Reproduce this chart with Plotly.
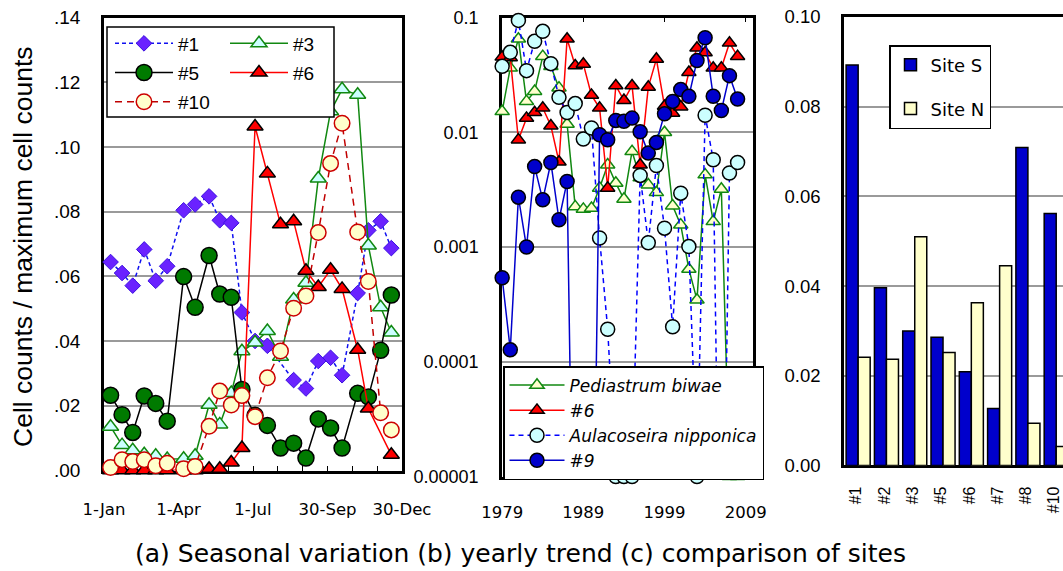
import plotly.graph_objects as go
import pandas as pd

W, H = 1063, 571

# ---------------- Panel (a): seasonal variation ----------------
season_dates = ["2001-01-09", "2001-01-23", "2001-02-05", "2001-02-19", "2001-03-05", "2001-03-19",
                "2001-04-08", "2001-04-22", "2001-05-09", "2001-05-22", "2001-06-05", "2001-06-18",
                "2001-07-04", "2001-07-19", "2001-08-04", "2001-08-20", "2001-09-04", "2001-09-19",
                "2001-10-04", "2001-10-18", "2001-11-06", "2001-11-19", "2001-12-04", "2001-12-17"]
site1 = [0.0644, 0.0610, 0.0571, 0.0683, 0.0586, 0.0631, 0.0804, 0.0822, 0.0847, 0.0773, 0.0765, 0.0488,
         0.0400, 0.0385, None, 0.0279, 0.0253, 0.0338, 0.0348, 0.0294, 0.0548, 0.0742, 0.0770, 0.0687]
site3 = [0.0135, 0.0078, 0.0062, 0.0050, 0.0045, 0.0035, 0.0036, 0.0045, 0.0203, 0.0142, 0.0239, 0.0368,
         0.0395, 0.0431, 0.0351, 0.0528, 0.0580, 0.0902, 0.1110, 0.1178, 0.1161, 0.0695, 0.0504, 0.0426]
site5 = [0.0232, 0.0172, 0.0117, 0.0230, 0.0207, 0.0152, 0.0599, 0.0504, 0.0664, 0.0545, 0.0535, 0.0250,
         0.0170, 0.0139, 0.0069, 0.0084, 0.0038, 0.0159, 0.0131, 0.0069, 0.0238, 0.0227, 0.0371, 0.0542]
site6 = [0.0, 0.0, 0.0, 0.0, 0.0, 0.0, 0.0, 0.0, 0.0005, 0.0005, 0.0024, 0.0069,
         0.1063, 0.0918, 0.0761, 0.0770, 0.0617, 0.0567, 0.0620, 0.0561, 0.0373, 0.0191, None, 0.0048]
site10 = [0.0009, 0.0033, 0.0027, 0.0033, 0.0014, 0.0022, 0.0005, 0.0012, 0.0136, 0.0245, 0.0202, 0.0231,
          0.0166, 0.0286, 0.0369, 0.0501, 0.0539, 0.0735, 0.0949, 0.1073, 0.0737, 0.0584, 0.0178, 0.0125]
season_tick_labels = ["1-Jan", "1-Apr", "1-Jul", "30-Sep", "30-Dec"]
season_y_ticks = [0.0, 0.02, 0.04, 0.06, 0.08, 0.10, 0.12, 0.14]
season_y_labels = [".00", ".02", ".04", ".06", ".08", ".10", ".12", ".14"]

# ---------------- Panel (b): yearly trend ----------------
years = [1979, 1980, 1981, 1982, 1983, 1984, 1985, 1986, 1987, 1988,
         1989, 1990, 1991, 1992, 1993, 1994, 1995, 1996, 1997, 1998,
         1999, 2000, 2001, 2002, 2003, 2004, 2005, 2006, 2007, 2008]
ZERO = 1e-7  # value of zero / not detected: drawn below the log axis
pediastrum = [0.0152, 0.0364, 0.0652, 0.0186, 0.0228, 0.0459, 0.0376, 0.0244, 0.0118, 0.00225,
              0.00214, 0.00218, 0.00327, 0.00521, 0.00361, 0.00262, 0.00681, 0.00402, 0.00349, 0.00299,
              0.00998, 0.00229, 0.00156, 0.000641, 0.000346, 0.00427, 0.00167, 0.00320, 0.00001, 0.00001]
yearly6 = [0.0454, 0.0448, 0.00861, 0.0133, 0.0149, 0.0163, 0.0114, 0.00552, 0.0652, 0.0381,
           0.0394, 0.0211, 0.0163, 0.00327, 0.0255, 0.0190, 0.0255, 0.00521, 0.0248, 0.0435,
           0.0169, 0.0147, 0.0167, 0.0334, 0.0544, 0.0495, 0.0364, 0.0364, 0.0601, 0.0459]
aulacoseira = [0.0376, 0.0498, 0.0946, 0.0345, 0.0621, 0.0759, 0.0397, 0.0202, 0.0149, 0.0178,
               0.00875, 0.0109, 0.00120, 0.000192, 0.00001, 0.00001, 0.00001, 0.00421, 0.00109, 0.00514,
               0.00146, 0.000202, 0.00295, 0.00101, 0.00001, 0.0141, 0.00577, ZERO, 0.00442, 0.00546]
yearly9 = [0.00054, 0.000127, 0.00272, 0.00100, 0.00503, 0.00258, 0.00546, 0.00173, 0.00373, ZERO,
           ZERO, ZERO, 0.00953, 0.00861, 0.0127, 0.0125, 0.0133, 0.0101, 0.00659, 0.00817,
           0.0145, 0.0186, 0.0236, 0.0206, 0.0422, 0.0668, 0.0206, 0.0155, 0.0312, 0.0195]
year_ticks = [1979, 1989, 1999, 2009]
log_ticks = [0.1, 0.01, 0.001, 0.0001, 0.00001]
log_labels = ["0.1", "0.01", "0.001", "0.0001", "0.00001"]

# ---------------- Panel (c): comparison of sites ----------------
site_labels = ["#1", "#2", "#3", "#5", "#6", "#7", "#8", "#10"]
site_S = [0.0893, 0.0396, 0.0300, 0.0286, 0.0209, 0.0127, 0.0709, 0.0562]
site_N = [0.0241, 0.0237, 0.0510, 0.0252, 0.0363, 0.0445, 0.0094, 0.0042]
bar_y_ticks = [0.0, 0.02, 0.04, 0.06, 0.08, 0.10]

caption = "(a) Seasonal variation (b) yearly trend (c) comparison of sites"
y_title = "Cell counts / maximum cell counts"


def px_x(x):
    return x / W


def px_y(y):
    return 1 - y / H


ARIAL = "Liberation Sans, Arial, sans-serif"
WIDE = "DejaVu Sans, sans-serif"

fig = go.Figure()

# ---- (a) traces
fig.add_trace(go.Scatter(
    x=season_dates, y=site1, name="#1", mode="lines+markers", connectgaps=True,
    line=dict(color="#1010F0", width=1.5, dash="4px,3px"),
    marker=dict(symbol="diamond", size=12, color="#6A22FF", line=dict(color="#3A10E0", width=1)),
    xaxis="x", yaxis="y", legend="legend", legendgroup="a1", cliponaxis=False))
fig.add_trace(go.Scatter(
    x=season_dates, y=site3, name="#3", mode="lines+markers", connectgaps=True,
    line=dict(color="#118811", width=1.5),
    marker=dict(symbol="triangle-up", size=14, color="#CCFFFF", line=dict(color="#118811", width=1.5)),
    xaxis="x", yaxis="y", legend="legend2", legendgroup="a3", cliponaxis=False))
fig.add_trace(go.Scatter(
    x=season_dates, y=site5, name="#5", mode="lines+markers", connectgaps=True,
    line=dict(color="black", width=1.5),
    marker=dict(symbol="circle", size=16, color="#007A00", line=dict(color="black", width=1.5)),
    xaxis="x", yaxis="y", legend="legend", legendgroup="a5", cliponaxis=False))
fig.add_trace(go.Scatter(
    x=season_dates, y=site6, name="#6", mode="lines+markers", connectgaps=True,
    line=dict(color="#FF0000", width=1.5),
    marker=dict(symbol="triangle-up", size=14, color="#FF0000", line=dict(color="black", width=1.5)),
    xaxis="x", yaxis="y", legend="legend2", legendgroup="a6", cliponaxis=False))
fig.add_trace(go.Scatter(
    x=season_dates, y=site10, name="#10", mode="lines+markers", connectgaps=True,
    line=dict(color="#C00000", width=1.5, dash="7px,5px"),
    marker=dict(symbol="circle", size=15.5, color="#FFFFCC", line=dict(color="#CC0000", width=1.5)),
    xaxis="x", yaxis="y", legend="legend", legendgroup="a10", cliponaxis=False))

# ---- (b) traces
fig.add_trace(go.Scatter(
    x=years, y=pediastrum, name="Pediastrum biwae", mode="lines+markers",
    line=dict(color="#118811", width=1.5),
    marker=dict(symbol="triangle-up", size=12.5, color="#FFFFCC", line=dict(color="#118811", width=1.5)),
    xaxis="x2", yaxis="y2", legend="legend3", cliponaxis=False))
fig.add_trace(go.Scatter(
    x=years, y=yearly6, name="#6", mode="lines+markers",
    line=dict(color="#FF0000", width=1.5),
    marker=dict(symbol="triangle-up", size=12.5, color="#FF0000", line=dict(color="black", width=1.5)),
    xaxis="x2", yaxis="y2", legend="legend3", cliponaxis=False))
fig.add_trace(go.Scatter(
    x=years, y=aulacoseira, name="Aulacoseira nipponica", mode="lines+markers",
    line=dict(color="#0000FF", width=1.5, dash="5px,4px"),
    marker=dict(symbol="circle", size=14, color="#CCFFFF", line=dict(color="black", width=1.5)),
    xaxis="x2", yaxis="y2", legend="legend3", cliponaxis=False))
fig.add_trace(go.Scatter(
    x=years, y=yearly9, name="#9", mode="lines+markers",
    line=dict(color="#0000CC", width=1.5),
    marker=dict(symbol="circle", size=14, color="#0000CC", line=dict(color="black", width=1.5)),
    xaxis="x2", yaxis="y2", legend="legend3", cliponaxis=False))

# ---- (c) traces
fig.add_trace(go.Bar(
    x=site_labels, y=site_S, name="Site S",
    marker=dict(color="#0000CC", line=dict(color="black", width=1.5)),
    xaxis="x3", yaxis="y3", legend="legend4", legendgroup="S"))
fig.add_trace(go.Bar(
    x=site_labels, y=site_N, name="Site N",
    marker=dict(color="#FFFFCC", line=dict(color="black", width=1.5)),
    xaxis="x3", yaxis="y3", legend="legend4", legendgroup="N"))

# ---- axes
start = pd.Timestamp("2001-01-01")
season_tickvals = [(start + pd.Timedelta(days=30.25 * i)).strftime("%Y-%m-%d %H:%M:%S") for i in range(13)]
season_ticktext = [season_tick_labels[i // 3] if i % 3 == 0 else "" for i in range(13)]

grid = "#9A9A9A"
common_line = dict(showline=True, linecolor="black", linewidth=2.5, layer="below traces", zeroline=False)

fig.update_layout(
    xaxis=dict(domain=[px_x(104), px_x(402)], anchor="y", type="date",
               range=["2001-01-01", "2001-12-30"], tickvals=season_tickvals, ticktext=season_ticktext,
               ticks="inside", ticklen=5, tickwidth=1.2, tickcolor="black", showgrid=False, mirror=True,
               tickfont=dict(family=WIDE, size=16.5, color="black"), ticklabelstandoff=22, **common_line),
    yaxis=dict(domain=[px_y(470.5), px_y(17.5)], anchor="x", range=[-0.00005, 0.14],
               tickvals=season_y_ticks, ticktext=season_y_labels, ticks="", showgrid=True,
               gridcolor=grid, gridwidth=1.5, mirror=True,
               tickfont=dict(family=ARIAL, size=19, color="black"), ticklabelstandoff=17, **common_line),
    xaxis2=dict(domain=[px_x(502), px_x(753)], anchor="y2", range=[1978.98, 2009.9],
                tickvals=year_ticks, ticks="inside", ticklen=5, tickwidth=1.2, tickcolor="black",
                showgrid=False, mirror="ticks",
                tickfont=dict(family=WIDE, size=16.5, color="black"), ticklabelstandoff=19, **common_line),
    yaxis2=dict(domain=[px_y(476.7), px_y(17.5)], anchor="x2", type="log", range=[-5.002, -0.999],
                tickvals=log_ticks, ticktext=log_labels, ticks="", showgrid=True,
                gridcolor=grid, gridwidth=1.5, mirror=True,
                tickfont=dict(family=ARIAL, size=18, color="black"), ticklabelstandoff=17, **common_line),
    xaxis3=dict(domain=[px_x(844), 1.0], anchor="y3", type="category", range=[-0.5, 7.24],
                tickangle=-90, ticks="", showgrid=False, mirror=True,
                tickfont=dict(family=ARIAL, size=16, color="black"), ticklabelstandoff=12,
                ticklabelshift=-2, **common_line),
    yaxis3=dict(domain=[px_y(465.4), px_y(17)], anchor="x3", range=[0, 0.1],
                tickvals=bar_y_ticks, tickformat=".2f", ticks="", showgrid=True,
                gridcolor=grid, gridwidth=1.5, mirror=False,
                tickfont=dict(family=ARIAL, size=18.5, color="black"), ticklabelstandoff=17, **common_line),
)

fig.update_layout(
    width=W, height=H, margin=dict(l=0, r=0, t=0, b=0, pad=0, autoexpand=False),
    paper_bgcolor="white", plot_bgcolor="white",
    barmode="group", bargap=0.15, bargroupgap=0.0,
    showlegend=True,
    legend=dict(x=px_x(110), y=px_y(24.5), xanchor="left", yanchor="top",
                bgcolor="rgba(0,0,0,0)", borderwidth=0, itemwidth=58, tracegroupgap=1.5,
                font=dict(family=ARIAL, size=19, color="black"), traceorder="grouped"),
    legend2=dict(x=px_x(225), y=px_y(24.5), xanchor="left", yanchor="top",
                 bgcolor="rgba(0,0,0,0)", borderwidth=0, itemwidth=58, tracegroupgap=1.5,
                 font=dict(family=ARIAL, size=19, color="black"), traceorder="grouped"),
    legend3=dict(x=px_x(503), y=px_y(366), xanchor="left", yanchor="top",
                 bgcolor="white", bordercolor="black", borderwidth=1.5, itemwidth=55,
                 font=dict(family=WIDE, size=17, color="black", style="italic"), traceorder="normal"),
    legend4=dict(x=px_x(889), y=px_y(45), xanchor="left", yanchor="top",
                 bgcolor="white", bordercolor="black", borderwidth=1.5, tracegroupgap=17.5,
                 font=dict(family=WIDE, size=18, color="black"), traceorder="grouped"),
    shapes=[dict(type="rect", xref="paper", yref="paper",
                 x0=px_x(107), x1=px_x(334), y0=px_y(117), y1=px_y(27),
                 fillcolor="white", line=dict(color="black", width=1.5), layer="above")],
    annotations=[
        dict(text=y_title, xref="paper", yref="paper", x=px_x(22.5), y=px_y(246.5),
             xanchor="center", yanchor="middle", textangle=-90, showarrow=False,
             font=dict(family=ARIAL, size=26.5, color="black")),
        dict(text=caption, xref="paper", yref="paper", x=px_x(520), y=px_y(553),
             xanchor="center", yanchor="middle", showarrow=False,
             font=dict(family=WIDE, size=25, color="black")),
    ],
)

fig.write_html("out.html", config={"displayModeBar": False},
               post_script="document.body.style.margin='0px';document.body.style.overflow='hidden';")
